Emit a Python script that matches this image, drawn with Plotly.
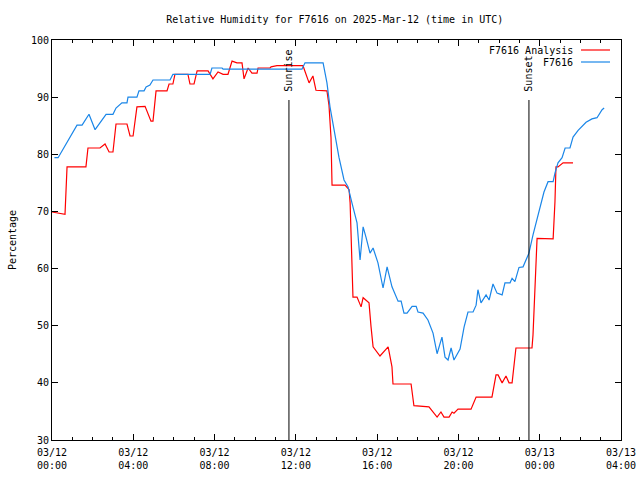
import plotly.graph_objects as go

# ---- data (hours since 2025-03-12 00:00 UTC, relative humidity %) ----
analysis_hours = [0.0, 0.39, 0.64, 0.74, 1.67, 1.77, 2.36, 2.61, 2.81, 3.00, 3.15, 3.69, 3.84, 3.99,
                  4.18, 4.58, 4.87, 4.97, 5.12, 5.66, 5.76, 5.95, 6.05, 6.69, 6.79, 6.99, 7.14, 7.68,
                  7.92, 8.17, 8.42, 8.66, 8.86, 9.10, 9.35, 9.45, 9.65, 9.84, 10.09, 10.14, 10.73,
                  10.78, 11.07, 12.35, 12.65, 12.84, 12.99, 13.53, 13.63, 13.73, 13.78, 14.42, 14.62,
                  14.67, 14.76, 14.81, 15.01, 15.21, 15.31, 15.60, 15.70, 15.80, 16.14, 16.54, 16.58,
                  16.73, 16.78, 17.67, 17.81, 18.55, 18.95, 19.14, 19.29, 19.54, 19.69, 19.78, 19.98,
                  20.62, 20.87, 21.65, 21.85, 21.95, 22.15, 22.34, 22.49, 22.64, 22.83, 23.62, 23.67,
                  23.72, 23.77, 23.87, 24.66, 24.70, 24.75, 24.80, 24.90, 25.15, 25.64]
analysis_vals = [69.9, 69.7, 69.5, 77.8, 77.8, 81.1, 81.1, 81.8, 80.4, 80.4, 85.3, 85.3, 83.2, 83.2,
                 88.3, 88.4, 85.8, 85.8, 91.1, 91.1, 92.3, 92.3, 94.0, 94.0, 92.3, 92.3, 94.6, 94.6,
                 93.2, 94.4, 94.0, 94.0, 96.3, 96.0, 96.0, 93.2, 95.1, 94.2, 94.2, 95.1, 95.1,
                 95.3, 95.5, 95.5, 92.5, 93.7, 91.2, 91.1, 88.6, 82.9, 74.6, 74.6, 73.8,
                 71.5, 62.0, 55.0, 55.0, 53.3, 54.9, 54.0, 49.8, 46.3, 44.7, 46.3, 45.6,
                 42.8, 39.8, 39.8, 36.0, 35.8, 34.0, 34.9, 34.0, 34.0, 34.9, 34.7, 35.4,
                 35.4, 37.5, 37.5, 41.4, 41.4, 40.0, 41.2, 40.0, 40.0, 46.1, 46.1, 48.4,
                 53.3, 58.0, 65.3, 65.2, 67.3, 71.7, 77.8, 77.8, 78.5, 78.5]

obs_hours = [0.12, 0.30, 1.23, 1.48, 1.82, 2.12, 2.66, 3.00, 3.15, 3.44, 3.69, 3.74, 4.18, 4.28,
             4.53, 4.63, 4.82, 4.97, 5.81, 5.95, 7.78, 7.87, 8.37, 8.42, 12.30, 12.45, 13.34,
             13.53, 13.68, 13.88, 14.12, 14.37, 14.57, 14.76, 15.01, 15.16, 15.31, 15.45, 15.65,
             15.80, 16.04, 16.29, 16.49, 16.73, 17.03, 17.18, 17.32, 17.47, 17.72, 17.92, 18.01,
             18.26, 18.50, 18.75, 18.95, 19.19, 19.34, 19.49, 19.64, 19.78, 20.08, 20.28, 20.47,
             20.72, 20.87, 20.96, 21.11, 21.36, 21.51, 21.70, 21.90, 22.15, 22.29, 22.54, 22.64,
             22.78, 22.98, 23.18, 23.47, 23.67, 23.82, 23.97, 24.11, 24.21, 24.41, 24.66, 24.75,
             24.90, 25.10, 25.25, 25.49, 25.64, 25.89, 26.28, 26.57, 26.82, 27.07, 27.17]
obs_vals = [79.4, 79.4, 85.1, 85.1, 87.0, 84.3, 87.0, 87.0, 88.1, 89.0, 89.0, 90.0, 90.0, 91.1,
            91.1, 91.8, 92.1, 93.0, 93.0, 94.0, 94.0, 95.1, 95.1, 94.9, 94.9, 96.0, 96.0,
            92.5, 88.3, 84.2, 79.5, 75.5, 74.3, 71.5, 68.0, 61.5, 67.3, 65.5, 62.7,
            63.6, 61.0, 56.6, 60.3, 56.8, 54.3, 54.3, 52.2, 52.2, 53.4, 53.4, 52.4,
            52.2, 51.0, 48.7, 45.1, 48.0, 44.5, 44.0, 46.1, 44.0, 45.9, 49.8, 52.4,
            52.4, 53.6, 56.3, 54.0, 55.4, 54.5, 57.3, 55.7, 55.4, 57.5, 57.5, 58.3,
            57.7, 60.2, 60.3, 62.7, 65.9, 68.0, 70.3, 72.5, 73.4, 75.2, 75.2, 76.7,
            78.5, 79.4, 81.1, 81.1, 83.0, 84.2, 85.6, 86.2, 86.4, 87.8, 88.1]

tick_hours = [0, 4, 8, 12, 16, 20, 24, 28]
tick_labels = ["03/12<br>00:00", "03/12<br>04:00", "03/12<br>08:00", "03/12<br>12:00",
               "03/12<br>16:00", "03/12<br>20:00", "03/13<br>00:00", "03/13<br>04:00"]
sun_events = ["Sunrise", "Sunset"]
sun_hours = [11.66, 23.47]
series_names = ["F7616 Analysis", "F7616"]

FONT = "DejaVu Sans Mono"
RED = "#ff0000"
BLUE = "#1a86e8"

fig = go.Figure()
fig.add_trace(go.Scatter(x=analysis_hours, y=analysis_vals, mode="lines",
                         line=dict(color=RED, width=1.2), name=series_names[0], showlegend=False))
fig.add_trace(go.Scatter(x=obs_hours, y=obs_vals, mode="lines",
                         line=dict(color=BLUE, width=1.2), name=series_names[1], showlegend=False))

for name, h in zip(sun_events, sun_hours):
    fig.add_shape(type="line", xref="x", yref="y", x0=h, x1=h, y0=30, y1=89.5,
                  line=dict(color="black", width=1))
    fig.add_annotation(x=h, y=90.6, xref="x", yref="y", text=name, textangle=-90,
                       showarrow=False, xanchor="center", yanchor="bottom",
                       font=dict(family=FONT, size=10, color="black"))

# gnuplot-style legend (text right-aligned, sample line to the right)
for i, (name, col) in enumerate(zip(series_names, [RED, BLUE])):
    ypx = 50 + i * 12
    yp = 1 - (ypx - 40) / 400
    fig.add_annotation(x=(575 - 52) / 569, y=yp, xref="paper", yref="paper", text=name,
                       showarrow=False, xanchor="right", yanchor="middle",
                       font=dict(family=FONT, size=10, color="black"))
    fig.add_shape(type="line", xref="paper", yref="paper",
                  x0=(581 - 52) / 569, x1=(610 - 52) / 569, y0=yp, y1=yp,
                  line=dict(color=col, width=1.2))

fig.update_layout(
    width=640, height=480,
    margin=dict(l=52, r=19, t=40, b=40, autoexpand=False),
    paper_bgcolor="white", plot_bgcolor="white",
    font=dict(family=FONT, size=10, color="black"),
    title=dict(text="Relative Humidity for F7616 on 2025-Mar-12 (time in UTC)",
               x=0.523, xanchor="center", y=1 - 19 / 480, yanchor="middle",
               font=dict(family=FONT, size=10)),
    showlegend=False,
)
fig.update_xaxes(range=[0, 28], tickvals=tick_hours, ticktext=tick_labels, automargin=False,
                 showgrid=False, zeroline=False, showline=True, linecolor="black", linewidth=1,
                 mirror="allticks", ticks="inside", ticklen=6, tickcolor="black",
                 ticklabelstandoff=3,
                 minor=dict(dtick=1, ticks="inside", ticklen=3, tickcolor="black", showgrid=False),
                 tickfont=dict(family=FONT, size=10))
fig.update_yaxes(range=[30, 100], dtick=10, tick0=30, automargin=False,
                 showgrid=False, zeroline=False, showline=True, linecolor="black", linewidth=1,
                 mirror="allticks", ticks="inside", ticklen=6, tickcolor="black",
                 tickfont=dict(family=FONT, size=10),
                 title=dict(text="Percentage", font=dict(family=FONT, size=10), standoff=12))

fig.write_html("out.html")
